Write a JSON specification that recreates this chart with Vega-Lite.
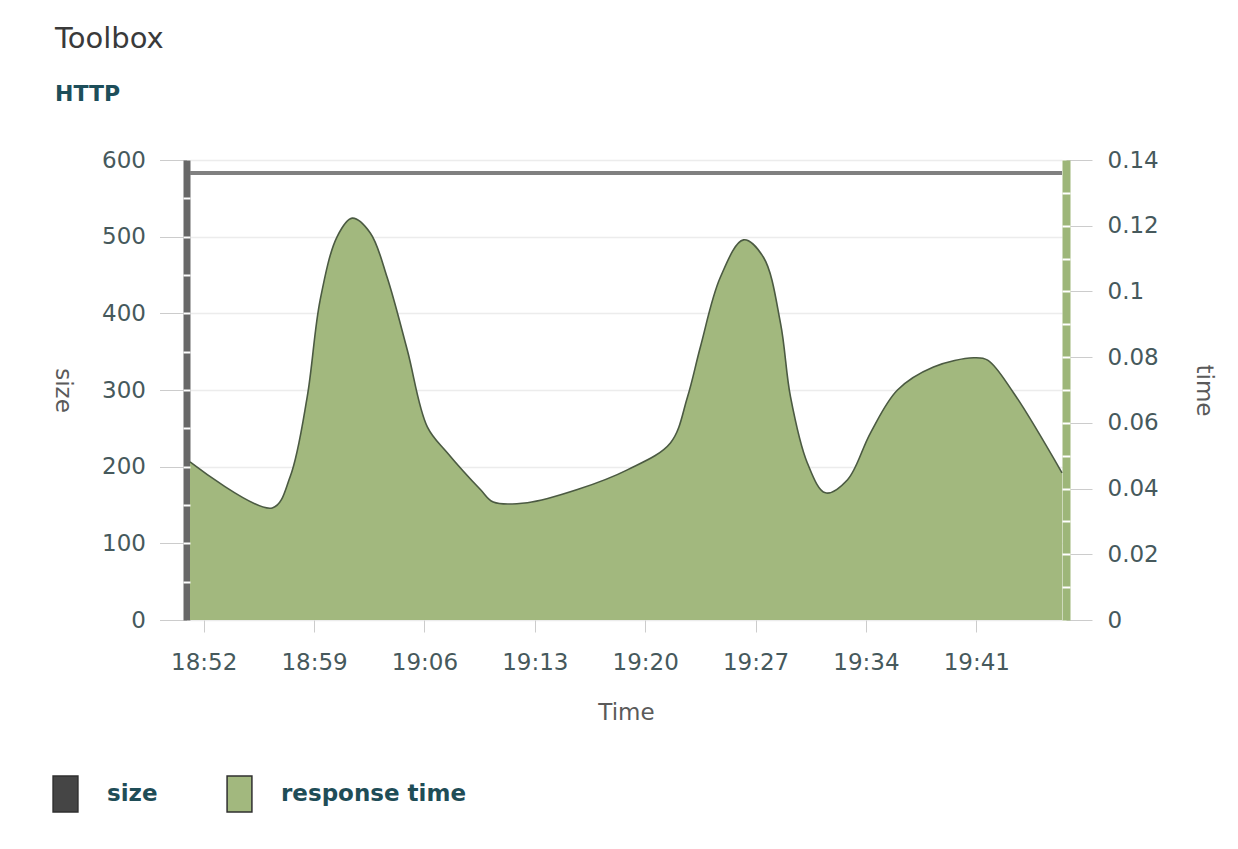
{
  "$schema": "https://vega.github.io/schema/vega-lite/v6.json",
  "autosize": {"type": "none"},
  "width": 872,
  "height": 460,
  "padding": {"left": 190, "top": 160, "right": 176, "bottom": 229},
  "background": "#ffffff",
  "title": {
    "text": "Toolbox",
    "subtitle": "HTTP",
    "anchor": "start",
    "frame": "group",
    "dx": -135,
    "offset": 44,
    "font": "DejaVu Sans",
    "fontSize": 29,
    "fontWeight": "normal",
    "color": "#3a3a3a",
    "subtitleFont": "DejaVu Sans",
    "subtitleFontSize": 22,
    "subtitleFontWeight": "bold",
    "subtitleColor": "#1d4e5a",
    "subtitlePadding": 30
  },
  "datasets": {
    "resp": [
      {"t": "2012-01-01T18:51:08", "time": 0.0481},
      {"t": "2012-01-01T18:56:21", "time": 0.0341},
      {"t": "2012-01-01T18:57:29", "time": 0.0436},
      {"t": "2012-01-01T18:58:34", "time": 0.0679},
      {"t": "2012-01-01T18:59:23", "time": 0.0973},
      {"t": "2012-01-01T19:00:28", "time": 0.1167},
      {"t": "2012-01-01T19:01:25", "time": 0.1223},
      {"t": "2012-01-01T19:02:34", "time": 0.1178},
      {"t": "2012-01-01T19:03:38", "time": 0.1043},
      {"t": "2012-01-01T19:04:55", "time": 0.0821},
      {"t": "2012-01-01T19:06:11", "time": 0.0588},
      {"t": "2012-01-01T19:07:27", "time": 0.0509},
      {"t": "2012-01-01T19:09:33", "time": 0.0397},
      {"t": "2012-01-01T19:10:22", "time": 0.0359},
      {"t": "2012-01-01T19:12:32", "time": 0.0357},
      {"t": "2012-01-01T19:15:42", "time": 0.0397},
      {"t": "2012-01-01T19:18:52", "time": 0.0457},
      {"t": "2012-01-01T19:21:36", "time": 0.0539},
      {"t": "2012-01-01T19:22:41", "time": 0.0679},
      {"t": "2012-01-01T19:23:30", "time": 0.0831},
      {"t": "2012-01-01T19:24:46", "time": 0.1043},
      {"t": "2012-01-01T19:26:14", "time": 0.1157},
      {"t": "2012-01-01T19:27:30", "time": 0.1104},
      {"t": "2012-01-01T19:28:35", "time": 0.0903},
      {"t": "2012-01-01T19:29:13", "time": 0.0679},
      {"t": "2012-01-01T19:30:17", "time": 0.0478},
      {"t": "2012-01-01T19:31:26", "time": 0.0387},
      {"t": "2012-01-01T19:32:50", "time": 0.0427},
      {"t": "2012-01-01T19:34:17", "time": 0.0569},
      {"t": "2012-01-01T19:36:00", "time": 0.0700},
      {"t": "2012-01-01T19:38:17", "time": 0.0770},
      {"t": "2012-01-01T19:40:50", "time": 0.0798},
      {"t": "2012-01-01T19:41:43", "time": 0.0791},
      {"t": "2012-01-01T19:43:22", "time": 0.0691},
      {"t": "2012-01-01T19:46:26", "time": 0.0448}
    ],
    "sizes": [
      {"t": "2012-01-01T18:51:08", "size": 583},
      {"t": "2012-01-01T19:46:26", "size": 583}
    ]
  },
  "encoding": {
    "x": {
      "field": "t",
      "type": "temporal",
      "title": "Time",
      "scale": {
        "domain": [
          {"year": 2012, "month": 1, "date": 1, "hours": 18, "minutes": 51, "seconds": 8},
          {"year": 2012, "month": 1, "date": 1, "hours": 19, "minutes": 46, "seconds": 26}
        ]
      },
      "axis": {
        "values": [
          {"year": 2012, "month": 1, "date": 1, "hours": 18, "minutes": 52},
          {"year": 2012, "month": 1, "date": 1, "hours": 18, "minutes": 59},
          {"year": 2012, "month": 1, "date": 1, "hours": 19, "minutes": 6},
          {"year": 2012, "month": 1, "date": 1, "hours": 19, "minutes": 13},
          {"year": 2012, "month": 1, "date": 1, "hours": 19, "minutes": 20},
          {"year": 2012, "month": 1, "date": 1, "hours": 19, "minutes": 27},
          {"year": 2012, "month": 1, "date": 1, "hours": 19, "minutes": 34},
          {"year": 2012, "month": 1, "date": 1, "hours": 19, "minutes": 41}
        ],
        "format": "%H:%M",
        "domain": false,
        "grid": false,
        "tickSize": 12,
        "tickColor": "#cccccc",
        "tickWidth": 1,
        "labelPadding": 19,
        "labelFont": "DejaVu Sans",
        "labelFontSize": 23,
        "labelColor": "#46595c",
        "labelFlush": false,
        "labelOverlap": false,
        "titleFont": "DejaVu Sans",
        "titleFontSize": 23,
        "titleFontWeight": "normal",
        "titleColor": "#5a5a5a",
        "titleY": 92,
        "titleBaseline": "middle"
      }
    }
  },
  "layer": [
    {
      "data": {"name": "resp"},
      "mark": {"type": "area", "interpolate": "catmull-rom", "opacity": 1},
      "encoding": {
        "y": {
          "field": "time",
          "type": "quantitative",
          "title": "time",
          "scale": {"domain": [0, 0.14], "nice": false},
          "axis": {
            "orient": "right",
            "values": [0, 0.02, 0.04, 0.06, 0.08, 0.1, 0.12, 0.14],
            "format": "~g",
            "offset": 4,
            "domain": true,
            "domainColor": "#9db679",
            "domainWidth": 8,
            "grid": false,
            "tickSize": 26,
            "tickColor": "#cccccc",
            "tickWidth": 1,
            "labelPadding": 15,
            "labelFont": "DejaVu Sans",
            "labelFontSize": 23,
            "labelColor": "#46595c",
            "labelFlush": false,
            "labelOverlap": false,
            "titleFont": "DejaVu Sans",
            "titleFontSize": 23,
            "titleFontWeight": "normal",
            "titleColor": "#5a5a5a",
            "titleAngle": 90,
            "titleX": 137,
            "titleY": 230,
            "titleAlign": "center",
            "titleBaseline": "middle",
            "zindex": 0
          }
        },
        "fill": {
          "datum": "response time",
          "type": "nominal",
          "scale": {"domain": ["size", "response time"], "range": ["#454545", "#a2b87e"]},
          "legend": {
            "title": null,
            "orient": "none",
            "legendX": -143.5,
            "legendY": 615,
            "direction": "horizontal",
            "padding": 0,
            "symbolType": "M-0.69,-1H0.69V1H-0.69Z",
            "symbolSize": 1296,
            "symbolStrokeColor": "#2f2f2f",
            "symbolStrokeWidth": 1.5,
            "symbolOpacity": 1,
            "labelFont": "DejaVu Sans",
            "labelFontSize": 23,
            "labelFontWeight": "bold",
            "labelColor": "#1f4d57",
            "labelOffset": 22.5,
            "labelLimit": 0,
            "columnPadding": 62
          }
        }
      }
    },
    {
      "data": {"name": "resp"},
      "mark": {"type": "line", "interpolate": "catmull-rom", "color": "#4b5a42", "strokeWidth": 1.6},
      "encoding": {
        "y": {
          "field": "time",
          "type": "quantitative",
          "scale": {"domain": [0, 0.14], "nice": false},
          "axis": {
            "orient": "right",
            "values": [0.01, 0.02, 0.03, 0.04, 0.05, 0.06, 0.07, 0.08, 0.09, 0.1, 0.11, 0.12, 0.13],
            "offset": 0,
            "domain": false,
            "grid": false,
            "labels": false,
            "title": null,
            "tickSize": 8,
            "tickColor": "#ffffff",
            "tickWidth": 2,
            "zindex": 1
          }
        }
      }
    },
    {
      "data": {"name": "sizes"},
      "mark": {"type": "line", "color": "#808080", "strokeWidth": 4},
      "encoding": {
        "y": {
          "field": "size",
          "type": "quantitative",
          "title": "size",
          "scale": {"domain": [0, 600], "nice": false},
          "axis": {
            "orient": "left",
            "values": [0, 100, 200, 300, 400, 500, 600],
            "offset": 3.5,
            "domain": true,
            "domainColor": "#686868",
            "domainWidth": 7,
            "grid": true,
            "gridColor": "#ececec",
            "gridWidth": 1.5,
            "tickSize": 27,
            "tickColor": "#cccccc",
            "tickWidth": 1,
            "labelPadding": 14,
            "labelFont": "DejaVu Sans",
            "labelFontSize": 23,
            "labelColor": "#46595c",
            "labelFlush": false,
            "labelOverlap": false,
            "titleFont": "DejaVu Sans",
            "titleFontSize": 23,
            "titleFontWeight": "normal",
            "titleColor": "#5a5a5a",
            "titleAngle": 90,
            "titleX": -124.5,
            "titleY": 230,
            "titleAlign": "center",
            "titleBaseline": "middle",
            "zindex": 0
          }
        }
      }
    },
    {
      "data": {"name": "sizes"},
      "mark": {"type": "line", "color": "#808080", "strokeWidth": 4, "strokeOpacity": 0},
      "encoding": {
        "y": {
          "field": "size",
          "type": "quantitative",
          "scale": {"domain": [0, 600], "nice": false},
          "axis": {
            "orient": "left",
            "values": [50, 100, 150, 200, 250, 300, 350, 400, 450, 500, 550],
            "offset": 0,
            "domain": false,
            "grid": false,
            "labels": false,
            "title": null,
            "tickSize": 7,
            "tickColor": "#ffffff",
            "tickWidth": 2,
            "zindex": 1
          }
        }
      }
    }
  ],
  "resolve": {"scale": {"y": "independent"}, "axis": {"y": "independent"}},
  "config": {
    "view": {"stroke": null},
    "font": "DejaVu Sans"
  }
}
